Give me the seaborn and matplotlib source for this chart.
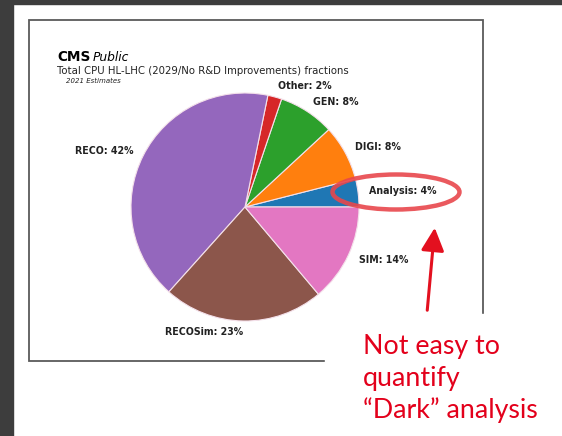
import matplotlib
matplotlib.use("Agg")
import matplotlib.pyplot as plt
from matplotlib.patches import Rectangle, Ellipse, FancyArrowPatch
import seaborn as sns

sns.set_theme(style="white")
plt.rcParams['font.family'] = ['DejaVu Sans']

# ---- data ----
categories = ["Analysis", "DIGI", "GEN", "Other", "RECO", "RECOSim", "SIM"]
fractions = [4, 8, 8, 2, 42, 23, 14]
labels = [f"{c}: {v}%" for c, v in zip(categories, fractions)]
colors = sns.color_palette("tab10", len(categories))

W, H = 562, 436
fig = plt.figure(figsize=(W / 100, H / 100), dpi=100)

# background axes in pixel coordinates
bg = fig.add_axes([0, 0, 1, 1])
bg.set_xlim(0, W)
bg.set_ylim(H, 0)
bg.axis("off")

bg.add_patch(Rectangle((0, 0), 13, H, color="#3d3d3d", zorder=1))
bg.add_patch(Rectangle((0, 0), W, 4, color="#3d3d3d", zorder=1))

# chart frame
bg.add_patch(Rectangle((29, 20), 454, 341, fill=False, edgecolor="#5a5a5a", lw=1.3, zorder=2))
# white box of the red note covering the frame corner
bg.add_patch(Rectangle((325, 314), 237, 122, color="white", zorder=3))

# titles
bg.text(57, 61, "CMS", fontsize=9.8, fontweight="bold", color="black", va="baseline", zorder=4)
bg.text(93, 61, "Public", fontsize=8.8, fontstyle="italic", color="black", va="baseline", zorder=4)
bg.text(57, 73.5, "Total CPU HL-LHC (2029/No R&D Improvements) fractions", fontsize=7.3,
        color="#222222", va="baseline", zorder=4)
bg.text(66, 83, "2021 Estimates", fontsize=5.0, fontstyle="italic", color="#222222",
        va="baseline", zorder=4)

# pie axes
cx, cy, R = 245, 207, 114
pie_ax = fig.add_axes([(cx - R) / W, 1 - (cy + R) / H, 2 * R / W, 2 * R / H])
wedges, texts = pie_ax.pie(
    fractions, labels=labels, colors=colors, startangle=0, counterclock=True,
    labeldistance=1.1, wedgeprops=dict(edgecolor="#f4e0ea", linewidth=0.8),
    textprops=dict(fontsize=6.85, fontweight="bold", color="#222222"),
)
pie_ax.set_xlim(-1, 1)
pie_ax.set_ylim(-1, 1)
pie_ax.axis("off")

# annotation layer on top
top = fig.add_axes([0, 0, 1, 1])
top.set_xlim(0, W)
top.set_ylim(H, 0)
top.axis("off")
top.patch.set_alpha(0)

top.add_patch(Ellipse((396, 192), 127, 35, fill=False, edgecolor="#e8474c", lw=3.2, alpha=0.9))
top.add_patch(FancyArrowPatch((427, 313), (435, 225), arrowstyle="-|>,head_length=7,head_width=3.5",
                              color="#e3101f", lw=2.2, mutation_scale=2))

red = "#e3001b"
for txt, yb in [("Not easy to", 354), ("quantify", 386), ("\u201cDark\u201d analysis", 418)]:
    top.text(363, yb, txt, fontsize=19.3, color=red, family=["Lato", "DejaVu Sans"], va="baseline")

fig.savefig("out.png", dpi=100)
